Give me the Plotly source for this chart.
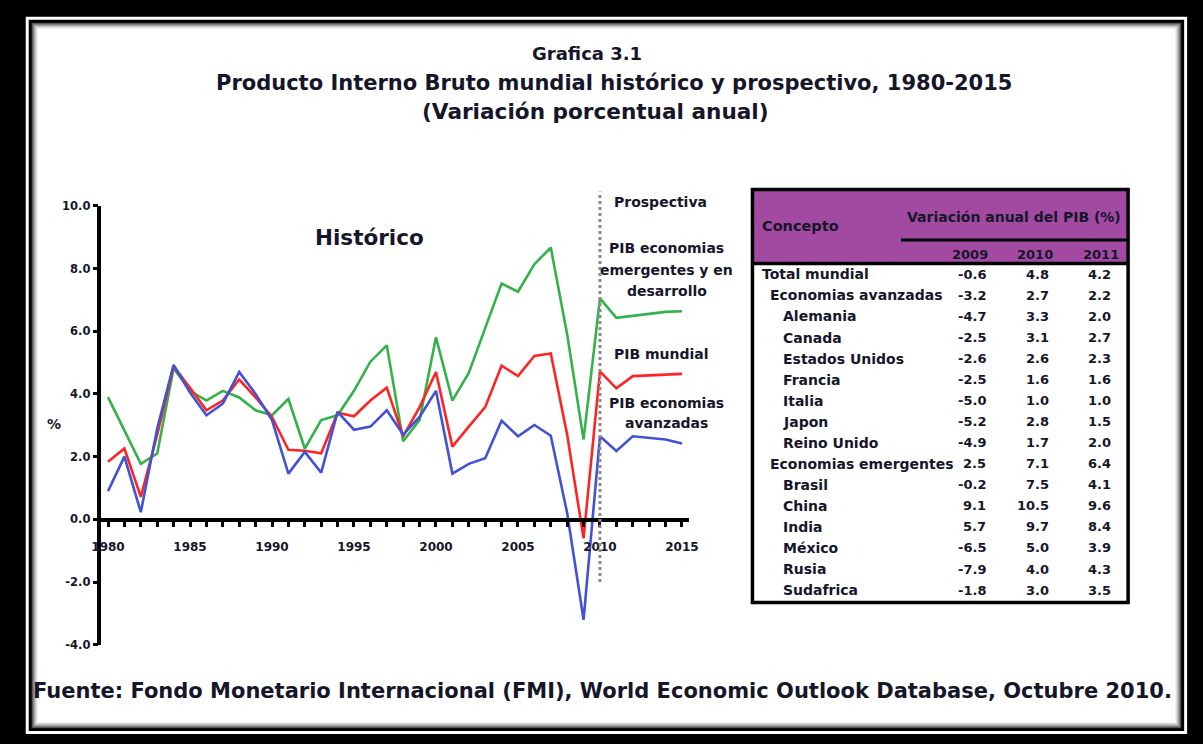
import plotly.graph_objects as go

# ---------------- data ----------------
years = list(range(1980, 2016))
pib_emergentes = [3.9, 2.85, 1.77, 2.1, 4.82, 4.1, 3.79, 4.1, 3.89, 3.48, 3.32, 3.84, 2.26, 3.17, 3.32, 4.1,
                  5.03, 5.55, 2.49, 3.17, 5.81, 3.79, 4.67, 6.1, 7.52, 7.26, 8.14, 8.67, 5.9, 2.55,
                  7.05, 6.43, 6.5, 6.55, 6.62, 6.64]
pib_mundial = [1.84, 2.26, 0.72, 2.7, 4.88, 4.2, 3.48, 3.79, 4.46, 3.89, 3.27, 2.22, 2.19, 2.11, 3.4, 3.29,
               3.79, 4.2, 2.65, 3.58, 4.7, 2.32, 2.96, 3.58, 4.9, 4.57, 5.21, 5.29, 2.7, -0.6,
               4.72, 4.18, 4.57, 4.6, 4.62, 4.64]
pib_avanzadas = [0.9, 2.0, 0.23, 2.9, 4.93, 4.05, 3.32, 3.69, 4.7, 4.0, 3.17, 1.46, 2.15, 1.49, 3.43, 2.86,
                 2.96, 3.48, 2.7, 3.27, 4.1, 1.46, 1.77, 1.95, 3.15, 2.65, 3.01, 2.67, 0.2, -3.2,
                 2.65, 2.18, 2.65, 2.6, 2.55, 2.42]

x_tickvals = [1980, 1985, 1990, 1995, 2000, 2005, 2010, 2015]
y_tickvals = [-4, -2, 0, 2, 4, 6, 8, 10]
y_ticktext = ["-4.0", "-2.0", "0.0", "2.0", "4.0", "6.0", "8.0", "10.0"]
prospectiva_start = 2010

tabla_conceptos = ["Total mundial", "Economias avanzadas", "Alemania", "Canada", "Estados Unidos",
                   "Francia", "Italia", "Japon", "Reino Unido", "Economias emergentes", "Brasil",
                   "China", "India", "México", "Rusia", "Sudafrica"]
tabla_nivel = [0, 1, 2, 2, 2, 2, 2, 2, 2, 1, 2, 2, 2, 2, 2, 2]
tabla_anios = ["2009", "2010", "2011"]
pib_2009 = ["-0.6", "-3.2", "-4.7", "-2.5", "-2.6", "-2.5", "-5.0", "-5.2", "-4.9", "2.5", "-0.2",
            "9.1", "5.7", "-6.5", "-7.9", "-1.8"]
pib_2010 = ["4.8", "2.7", "3.3", "3.1", "2.6", "1.6", "1.0", "2.8", "1.7", "7.1", "7.5",
            "10.5", "9.7", "5.0", "4.0", "3.0"]
pib_2011 = ["4.2", "2.2", "2.0", "2.7", "2.3", "1.6", "1.0", "1.5", "2.0", "6.4", "4.1",
            "9.6", "8.4", "3.9", "4.3", "3.5"]

# ---------------- helpers ----------------
W, H = 1203, 744
FONT = "DejaVu Sans"
TXT = "#16162a"


def px(x):
    return x / W


def py(y):
    return 1 - y / H


fig = go.Figure()

fig.add_trace(go.Scatter(x=years, y=pib_emergentes, mode="lines", name="PIB economias emergentes",
                         line=dict(color="#33B24A", width=2.6)))
fig.add_trace(go.Scatter(x=years, y=pib_mundial, mode="lines", name="PIB mundial",
                         line=dict(color="#FF2424", width=2.6)))
fig.add_trace(go.Scatter(x=years, y=pib_avanzadas, mode="lines", name="PIB economias avanzadas",
                         line=dict(color="#4352D4", width=2.6)))

shapes = []
# outer frame
shapes.append(dict(type="rect", xref="paper", yref="paper", x0=px(16), x1=px(1197), y0=py(741), y1=py(10),
                   fillcolor="white", line=dict(width=0), layer="below"))
shapes.append(dict(type="rect", xref="paper", yref="paper", x0=px(19), x1=px(1194), y0=py(738), y1=py(13),
                   fillcolor="black", line=dict(width=0), layer="below"))
shade = ["#4a4a4a", "#777777", "#9a9a9a", "#bbbbbb", "#d6d6d6", "#ebebeb", "#ffffff"]
for i, c in enumerate(shade):
    shapes.append(dict(type="rect", xref="paper", yref="paper", x0=px(22 + i), x1=px(1191 - i),
                       y0=py(735 - i), y1=py(16 + i), fillcolor=c, line=dict(width=0), layer="below"))

# vertical separator historico / prospectiva
shapes.append(dict(type="line", xref="x", yref="paper", x0=prospectiva_start, x1=prospectiva_start,
                   y0=py(586), y1=py(188), line=dict(color="#8c8c8c", width=3, dash="dot"), layer="above"))

# table
TX0, TX1, TY0, TY1 = 755, 1137, 186, 607
shapes.append(dict(type="rect", xref="paper", yref="paper", x0=px(TX0), x1=px(TX1), y0=py(261), y1=py(TY0),
                   fillcolor="#A24AA2", line=dict(width=0), layer="above"))
shapes.append(dict(type="line", xref="paper", yref="paper", x0=px(TX0), x1=px(TX1), y0=py(261.5), y1=py(261.5),
                   line=dict(color="black", width=3.5), layer="above"))
shapes.append(dict(type="line", xref="paper", yref="paper", x0=px(906), x1=px(TX1), y0=py(237.5), y1=py(237.5),
                   line=dict(color="black", width=3), layer="above"))
shapes.append(dict(type="rect", xref="paper", yref="paper", x0=px(TX0), x1=px(TX1), y0=py(TY1), y1=py(TY0),
                   fillcolor="rgba(0,0,0,0)", line=dict(color="black", width=3.5), layer="above"))

ann = []


def text(x, y, s, size, xanchor="center", bold=True, color=TXT):
    ann.append(dict(x=px(x), y=py(y), xref="paper", yref="paper", text=s, showarrow=False,
                    xanchor=xanchor, yanchor="middle",
                    font=dict(family=FONT, size=size, color=color, weight="bold" if bold else "normal")))


# titles
text(587, 47, "Grafica 3.1", 18)
text(614, 77, "Producto Interno Bruto mundial histórico y prospectivo, 1980-2015", 21)
text(595, 107, "(Variación porcentual anual)", 21.6)
# footer
text(603, 697, "Fuente: Fondo Monetario Internacional (FMI), World Economic Outlook Database, Octubre 2010.", 21)

# chart labels
text(366, 235, "Histórico", 21.5)
text(45, 425, "%", 14)
text(612, 199, "Prospectiva", 14, xanchor="left")
for s, y in zip(["PIB economias", "emergentes y en", "desarrollo"], [246, 268, 289]):
    text(668, y, s, 14)
text(663, 354, "PIB mundial", 14)
for s, y in zip(["PIB economias", "avanzadas"], [404, 424]):
    text(668, y, s, 14)

# table header
text(763, 223, "Concepto", 14.5, xanchor="left")
text(1021, 214, "Variación anual del PIB (%)", 14)
for s, xr in zip(tabla_anios, [997, 1063, 1130]):
    text(xr, 252, s, 13, xanchor="right")

indent = {0: 763, 1: 771, 2: 784}
row0, step = 272.5, 21.45
for i, (c, lvl, a, b, d) in enumerate(zip(tabla_conceptos, tabla_nivel, pib_2009, pib_2010, pib_2011)):
    y = row0 + i * step
    text(indent[lvl], y, c, 14, xanchor="left")
    text(995, y, a, 13, xanchor="right")
    text(1059, y, b, 13, xanchor="right")
    text(1122, y, d, 13, xanchor="right")

x_font = dict(family=FONT, size=12, color=TXT, weight="bold")
y_font = dict(family=FONT, size=11.5, color=TXT, weight="bold")
fig.update_layout(
    width=W, height=H,
    margin=dict(l=0, r=0, t=0, b=0),
    paper_bgcolor="black",
    plot_bgcolor="rgba(0,0,0,0)",
    showlegend=False,
    shapes=shapes,
    annotations=ann,
    xaxis=dict(domain=[px(93), px(690)], range=[1979.6, 2015.4], anchor="free", position=py(522.4),
               showline=True, linecolor="black", linewidth=3.5, showgrid=False, zeroline=False,
               tickmode="array", tickvals=x_tickvals, ticks="outside", ticklen=6, tickwidth=3,
               tickcolor="black", tickfont=x_font, ticklabelstandoff=9,
               minor=dict(tickmode="array", tickvals=years, ticks="outside", ticklen=6, tickwidth=3,
                          tickcolor="black", showgrid=False)),
    yaxis=dict(domain=[py(650), py(202.7)], range=[-4, 10], anchor="x",
               showline=True, linecolor="black", linewidth=3.5, showgrid=False, zeroline=False,
               tickmode="array", tickvals=y_tickvals, ticktext=y_ticktext, ticks="outside", ticklen=5,
               tickwidth=3, tickcolor="black", tickfont=y_font),
)

fig.write_html("out.html", config={"displayModeBar": False},
               post_script="document.body.style.margin='0';document.body.style.overflow='hidden';")
